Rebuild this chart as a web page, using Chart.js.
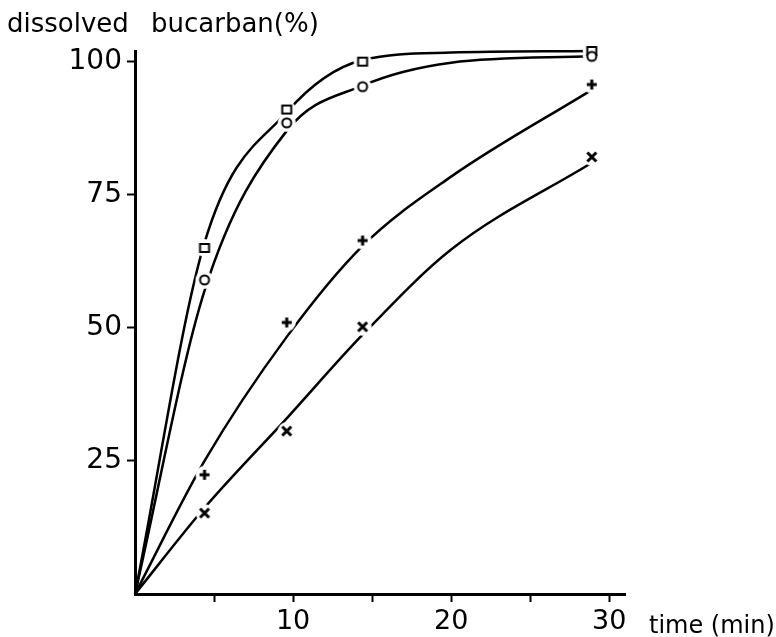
<!DOCTYPE html>
<html>
<head>
<meta charset="utf-8">
<script src="https://cdn.jsdelivr.net/npm/chart.js@4"></script>
<style>
  html, body { margin: 0; padding: 0; background: #fff; }
  #wrap { width: 776px; height: 637px; }
</style>
</head>
<body>
<div id="wrap"><canvas id="chart" width="776" height="637"></canvas></div>
<script>
// time (min) of the measurements
const times = [4.4, 9.6, 14.4, 28.9];
// measured dissolved bucarban (%), one array per formulation
const squareVals = [65, 91, 100, 102];
const circleVals = [59, 88.5, 95.3, 101];
const plusVals = [22.4, 51, 66.4, 95.7];
const crossVals = [15.2, 30.6, 50.2, 82.1];

// the hand drawn curves
const curveTimes = [0, 4.4, 9.6, 14.4, 20, 28.9];
const squareCurve = [0, 66, 90.5, 100.3, 101.7, 102];
const circleCurve = [0, 57, 87, 95.5, 99.8, 101];
const plusCurve = [0, 25, 48.3, 65.4, 78.4, 94.7];
const crossCurve = [0, 16.2, 33, 48.7, 64.7, 81];

const xTicks = [5, 10, 15, 20, 25, 30];
const xLabels = [10, 20, 30];
const yTicks = [25, 50, 75, 100];

function points(xs, vals) {
    return xs.map((t, i) => ({ x: t, y: vals[i] }));
}

// white disc: breaks the curves round each marker
function makeRing() {
    const c = document.createElement('canvas');
    c.width = 20;
    c.height = 20;
    const g = c.getContext('2d');
    g.fillStyle = '#fff';
    g.beginPath();
    g.arc(10, 10, 9, 0, Math.PI * 2);
    g.fill();
    return c;
}

function makeMarker(kind) {
    const c = document.createElement('canvas');
    c.width = 20;
    c.height = 20;
    const g = c.getContext('2d');
    g.strokeStyle = '#000';
    g.fillStyle = '#fff';
    if (kind === 'square') {
        g.lineWidth = 2;
        g.fillRect(5.5, 6, 9, 8);
        g.strokeRect(5.5, 6, 9, 8);
    } else if (kind === 'circle') {
        g.lineWidth = 2;
        g.beginPath();
        g.arc(10, 10, 4.5, 0, Math.PI * 2);
        g.fill();
        g.stroke();
    } else if (kind === 'plus') {
        g.lineWidth = 3;
        g.beginPath();
        g.moveTo(5, 10); g.lineTo(15, 10);
        g.moveTo(10, 5); g.lineTo(10, 15);
        g.stroke();
    } else {
        g.lineWidth = 3;
        g.beginPath();
        g.moveTo(5.5, 5.5); g.lineTo(14.5, 14.5);
        g.moveTo(14.5, 5.5); g.lineTo(5.5, 14.5);
        g.stroke();
    }
    return c;
}

const series = [
    { vals: circleVals, curve: circleCurve, marker: 'circle' },
    { vals: squareVals, curve: squareCurve, marker: 'square' },
    { vals: plusVals, curve: plusCurve, marker: 'plus' },
    { vals: crossVals, curve: crossCurve, marker: 'cross' }
];

const ring = makeRing();
let datasets = [];
// the first dataset is drawn last, so: symbols, then white discs, then curves
series.forEach(s => {
    datasets.push({
        data: points(times, s.vals),
        showLine: false,
        pointStyle: makeMarker(s.marker),
        pointRadius: 10,
        clip: false
    });
});
series.forEach(s => {
    datasets.push({
        data: points(times, s.vals),
        showLine: false,
        pointStyle: ring,
        pointRadius: 10,
        clip: false
    });
});
series.forEach(s => {
    datasets.push({
        data: points(curveTimes, s.curve),
        showLine: true,
        borderColor: '#000',
        borderWidth: 2.5,
        pointRadius: 0,
        cubicInterpolationMode: 'monotone',
        clip: false
    });
});

const textPlugin = {
    id: 'axisTitles',
    afterDraw(chart) {
        const ctx = chart.ctx;
        ctx.save();
        ctx.fillStyle = '#000';
        ctx.textBaseline = 'alphabetic';
        ctx.textAlign = 'left';
        ctx.font = '26px "DejaVu Sans"';
        ctx.fillText('dissolved', 7, 32);
        ctx.fillText('bucarban(%)', 151, 32);
        ctx.font = '24px "DejaVu Sans"';
        ctx.fillText('time (min)', 649, 633);
        ctx.restore();
    }
};

new Chart(document.getElementById('chart').getContext('2d'), {
    type: 'scatter',
    data: { datasets: datasets },
    options: {
        responsive: false,
        animation: false,
        layout: { padding: { left: 0, top: 51, right: 151, bottom: 0 } },
        plugins: { legend: { display: false }, tooltip: { enabled: false } },
        scales: {
            x: {
                type: 'linear',
                min: 0,
                max: 31,
                afterBuildTicks: scale => { scale.ticks = xTicks.map(v => ({ value: v })); },
                afterFit: scale => { scale.height = 43; },
                ticks: {
                    color: '#000',
                    padding: 4,
                    maxRotation: 0,
                    autoSkip: false,
                    font: { family: 'DejaVu Sans', size: 27 },
                    callback: v => xLabels.includes(v) ? String(v) : ''
                },
                grid: { drawOnChartArea: false, tickLength: 8, tickColor: '#000', tickWidth: 2 },
                border: { color: '#000', width: 3 }
            },
            y: {
                min: 0,
                max: 102,
                afterBuildTicks: scale => { scale.ticks = yTicks.map(v => ({ value: v })); },
                afterFit: scale => { scale.width = 135; },
                ticks: {
                    color: '#000',
                    padding: 5,
                    autoSkip: false,
                    font: { family: 'DejaVu Sans', size: 28 }
                },
                grid: { drawOnChartArea: false, tickLength: 8, tickColor: '#000', tickWidth: 2 },
                border: { color: '#000', width: 3 }
            }
        }
    },
    plugins: [textPlugin]
});
</script>
</body>
</html>
